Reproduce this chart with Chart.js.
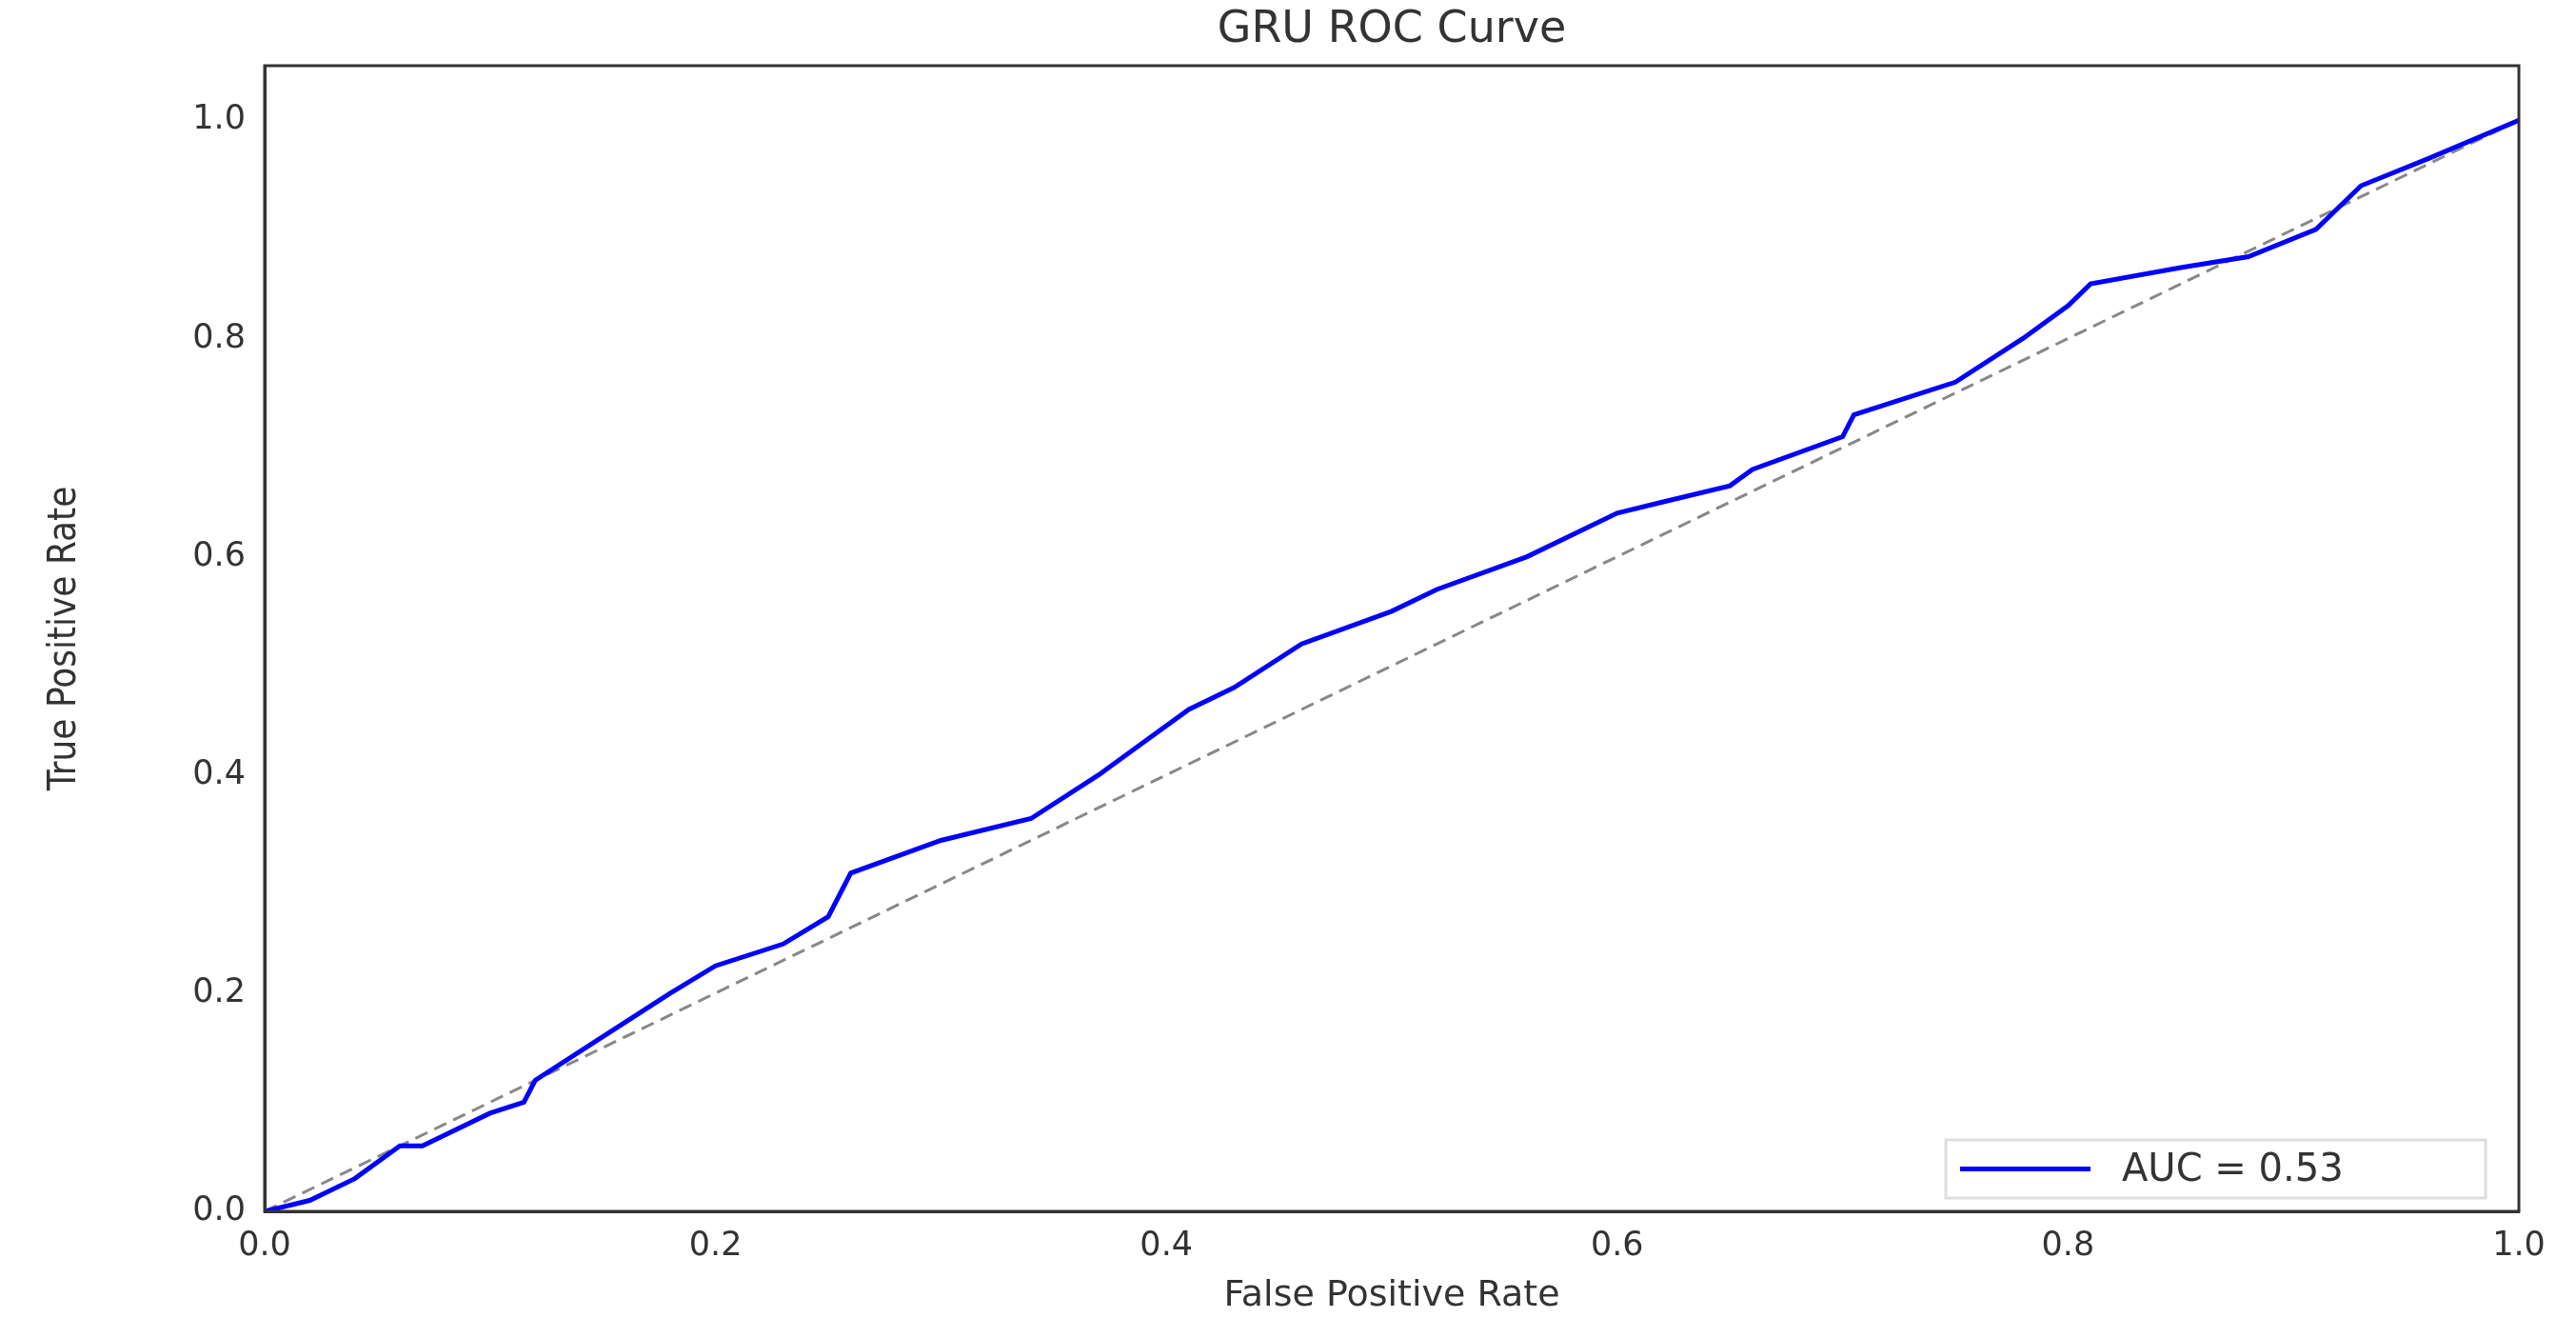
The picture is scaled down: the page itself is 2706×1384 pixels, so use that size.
<!DOCTYPE html>
<html><head><meta charset="utf-8">
<script src="https://cdn.jsdelivr.net/npm/chart.js@4"></script>
<style>html,body{margin:0;padding:0;background:#fff}#w{width:2706px;height:1384px}</style>
</head><body><div id="w"><canvas id="c"></canvas></div>
<script>
const fpr=[0,0.02,0.04,0.06,0.07,0.1,0.115,0.12,0.15,0.18,0.2,0.23,0.25,0.255,0.26,0.3,0.34,0.37,0.39,0.41,0.43,0.46,0.5,0.52,0.56,0.6,0.62,0.65,0.66,0.7,0.705,0.75,0.78,0.8,0.81,0.85,0.88,0.91,0.93,0.96,1];
const tpr=[0,0.01,0.03,0.06,0.06,0.09,0.1,0.12,0.16,0.2,0.225,0.245,0.27,0.29,0.31,0.34,0.36,0.4,0.43,0.46,0.48,0.52,0.55,0.57,0.6,0.64,0.65,0.665,0.68,0.71,0.73,0.76,0.8,0.83,0.85,0.865,0.875,0.9,0.94,0.965,1];
const diagX=[0,1];
const diagY=[0,1];
const xTicks=[0,0.2,0.4,0.6,0.8,1.0];
const yTicks=[0,0.2,0.4,0.6,0.8,1.0];
const titleText='GRU ROC Curve';
const aucLabel='AUC = 0.53';
const F='"DejaVu Sans", sans-serif';
const deco={id:'deco',afterDraw(ch){
 const c=ch.ctx,a=ch.chartArea;
 c.save();
 c.fillStyle='#333';c.font='46px '+F;c.textAlign='center';c.textBaseline='middle';
 c.fillText(titleText,(a.left+a.right)/2,32);
 c.strokeStyle='#333';c.lineWidth=3;c.strokeRect(a.left,a.top,a.right-a.left,a.bottom-a.top);
 const w=567,h=61,x=a.right-35-w,y=a.bottom-14-h;
 c.fillStyle='rgba(255,255,255,0.85)';c.fillRect(x,y,w,h);
 c.strokeStyle='#ddd';c.lineWidth=3;c.strokeRect(x,y,w,h);
 c.strokeStyle='#0000ff';c.lineWidth=5;c.beginPath();c.moveTo(x+15,y+h/2);c.lineTo(x+152,y+h/2);c.stroke();
 c.fillStyle='#333';c.font='40px '+F;c.textAlign='left';c.fillText(aucLabel,x+185,y+h/2+2);
 c.restore();}};
new Chart(document.getElementById('c'),{type:'scatter',
 data:{datasets:[
  {label:aucLabel,data:fpr.map((v,i)=>({x:v,y:tpr[i]})),showLine:true,borderColor:'#0000ff',borderWidth:5,pointRadius:0},
  {label:'diag',data:diagX.map((v,i)=>({x:v,y:diagY[i]})),showLine:true,borderColor:'#888',borderWidth:3,borderDash:[14,8],pointRadius:0}
 ]},
 options:{responsive:true,maintainAspectRatio:false,animation:false,
  layout:{padding:{top:69,right:60,left:0,bottom:0}},
  plugins:{legend:{display:false},tooltip:{enabled:false}},
  scales:{
   x:{type:'linear',min:0,max:1,afterBuildTicks(s){s.ticks=xTicks.map(v=>({value:v}));},
    afterFit(s){s.height=112;},
    grid:{display:false,drawTicks:true,tickLength:12,tickColor:'#333'},border:{color:'#333',width:3},
    ticks:{color:'#333',font:{family:F,size:35},padding:4,maxRotation:0,callback:v=>v.toFixed(1)},
    title:{display:true,text:'False Positive Rate',color:'#333',font:{family:F,size:38},padding:{top:0,bottom:0}}},
   y:{type:'linear',min:0,max:1.05,afterBuildTicks(s){s.ticks=yTicks.map(v=>({value:v}));},
    afterFit(s){s.width=278;},
    grid:{display:false,drawTicks:true,tickLength:12,tickColor:'#333'},border:{color:'#333',width:3},
    ticks:{color:'#333',font:{family:F,size:35},padding:8,callback:v=>v.toFixed(1)},
    title:{display:true,text:'True Positive Rate',color:'#333',font:{family:'"Liberation Sans Narrow","DejaVu Sans Condensed",sans-serif',size:40},padding:{top:45,bottom:0}}}
  }},
 plugins:[deco]});
</script></body></html>
